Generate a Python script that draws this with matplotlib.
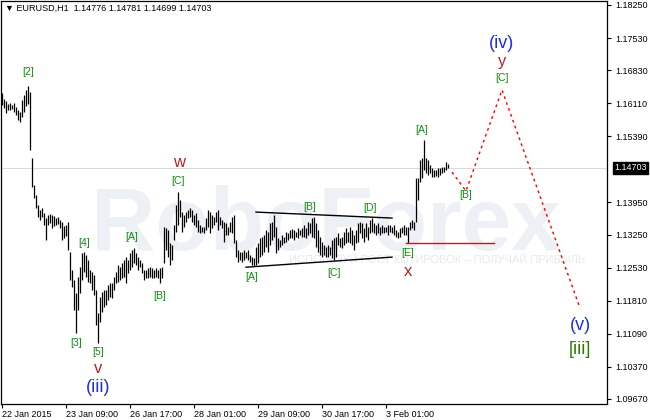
import matplotlib
matplotlib.use("Agg")
import matplotlib.pyplot as plt
import numpy as np

plt.rcParams['font.family'] = ['Liberation Sans', 'DejaVu Sans']

# hourly bars EURUSD H1
bar_high = [
    1.1633, 1.1620, 1.1616, 1.1609, 1.1612, 1.1607, 1.1612, 1.1603, 1.1596, 1.1592,
    1.1618, 1.1629, 1.1640, 1.1649, 1.1636, 1.1492, 1.1433, 1.1411, 1.1389, 1.1379,
    1.1383, 1.1372, 1.1361, 1.1368, 1.1370, 1.1368, 1.1366, 1.1361, 1.1363, 1.1357,
    1.1352, 1.1344, 1.1346, 1.1352, 1.1287, 1.1248, 1.1226, 1.1198, 1.1233, 1.1254,
    1.1285, 1.1287, 1.1281, 1.1270, 1.1248, 1.1244, 1.1237, 1.1204, 1.1154, 1.1189,
    1.1200, 1.1204, 1.1204, 1.1215, 1.1220, 1.1220, 1.1233, 1.1244, 1.1259, 1.1254,
    1.1263, 1.1270, 1.1276, 1.1270, 1.1285, 1.1292, 1.1296, 1.1285, 1.1276, 1.1270,
    1.1263, 1.1248, 1.1248, 1.1252, 1.1254, 1.1252, 1.1248, 1.1252, 1.1248, 1.1252,
    1.1254, 1.1342, 1.1339, 1.1335, 1.1307, 1.1302, 1.1346, 1.1389, 1.1418, 1.1400,
    1.1374, 1.1368, 1.1374, 1.1379, 1.1383, 1.1379, 1.1368, 1.1372, 1.1357, 1.1346,
    1.1342, 1.1342, 1.1361, 1.1379, 1.1374, 1.1368, 1.1363, 1.1374, 1.1379, 1.1363,
    1.1357, 1.1352, 1.1350, 1.1342, 1.1352, 1.1363, 1.1368, 1.1313, 1.1292, 1.1287,
    1.1287, 1.1292, 1.1287, 1.1292, 1.1281, 1.1276, 1.1274, 1.1298, 1.1307, 1.1318,
    1.1320, 1.1324, 1.1335, 1.1331, 1.1350, 1.1352, 1.1368, 1.1342, 1.1318, 1.1313,
    1.1324, 1.1320, 1.1331, 1.1329, 1.1335, 1.1337, 1.1335, 1.1331, 1.1339, 1.1335,
    1.1339, 1.1346, 1.1339, 1.1352, 1.1350, 1.1361, 1.1363, 1.1350, 1.1335, 1.1320,
    1.1309, 1.1302, 1.1298, 1.1302, 1.1298, 1.1313, 1.1318, 1.1320, 1.1329, 1.1318,
    1.1320, 1.1331, 1.1339, 1.1331, 1.1342, 1.1335, 1.1324, 1.1335, 1.1350, 1.1352,
    1.1350, 1.1339, 1.1350, 1.1342, 1.1357, 1.1361, 1.1350, 1.1346, 1.1350, 1.1342,
    1.1346, 1.1342, 1.1342, 1.1346, 1.1346, 1.1342, 1.1346, 1.1335, 1.1331, 1.1339,
    1.1342, 1.1346, 1.1342, 1.1342, 1.1352, 1.1357, 1.1352, 1.1448, 1.1448, 1.1488,
    1.1492, 1.1531, 1.1492, 1.1488, 1.1477, 1.1470, 1.1466, 1.1466, 1.1470, 1.1470,
    1.1472, 1.1472, 1.1483, 1.14781,
]
bar_low = [
    1.1607, 1.1601, 1.1590, 1.1596, 1.1596, 1.1599, 1.1592, 1.1586, 1.1575, 1.1570,
    1.1581, 1.1592, 1.1605, 1.1609, 1.1509, 1.1429, 1.1405, 1.1383, 1.1363, 1.1357,
    1.1363, 1.1346, 1.1313, 1.1346, 1.1350, 1.1339, 1.1344, 1.1346, 1.1348, 1.1339,
    1.1313, 1.1318, 1.1322, 1.1292, 1.1226, 1.1211, 1.1161, 1.1111, 1.1161, 1.1198,
    1.1226, 1.1244, 1.1233, 1.1222, 1.1220, 1.1204, 1.1193, 1.1128, 1.1089, 1.1135,
    1.1156, 1.1167, 1.1172, 1.1183, 1.1189, 1.1187, 1.1204, 1.1220, 1.1222, 1.1226,
    1.1230, 1.1233, 1.1220, 1.1241, 1.1248, 1.1254, 1.1263, 1.1259, 1.1248, 1.1254,
    1.1241, 1.1226, 1.1230, 1.1230, 1.1233, 1.1230, 1.1230, 1.1233, 1.1230, 1.1220,
    1.1230, 1.1263, 1.1292, 1.1276, 1.1259, 1.1270, 1.1313, 1.1331, 1.1346, 1.1363,
    1.1331, 1.1342, 1.1352, 1.1361, 1.1363, 1.1352, 1.1346, 1.1342, 1.1331, 1.1329,
    1.1331, 1.1329, 1.1335, 1.1342, 1.1329, 1.1339, 1.1346, 1.1352, 1.1335, 1.1346,
    1.1339, 1.1309, 1.1324, 1.1324, 1.1331, 1.1329, 1.1307, 1.1276, 1.1265, 1.1270,
    1.1265, 1.1270, 1.1274, 1.1270, 1.1265, 1.1259, 1.1257, 1.1259, 1.1263, 1.1276,
    1.1281, 1.1287, 1.1298, 1.1287, 1.1302, 1.1313, 1.1320, 1.1285, 1.1292, 1.1298,
    1.1302, 1.1307, 1.1309, 1.1313, 1.1318, 1.1318, 1.1313, 1.1320, 1.1318, 1.1324,
    1.1320, 1.1320, 1.1318, 1.1324, 1.1329, 1.1320, 1.1318, 1.1298, 1.1287, 1.1281,
    1.1276, 1.1281, 1.1276, 1.1276, 1.1281, 1.1274, 1.1270, 1.1276, 1.1302, 1.1298,
    1.1296, 1.1302, 1.1307, 1.1309, 1.1307, 1.1302, 1.1292, 1.1307, 1.1309, 1.1329,
    1.1318, 1.1309, 1.1320, 1.1313, 1.1329, 1.1331, 1.1329, 1.1324, 1.1329, 1.1324,
    1.1329, 1.1329, 1.1331, 1.1324, 1.1331, 1.1329, 1.1324, 1.1320, 1.1318, 1.1320,
    1.1329, 1.1324, 1.1324, 1.1307, 1.1335, 1.1339, 1.1335, 1.1352, 1.1400, 1.1440,
    1.1448, 1.1466, 1.1459, 1.1455, 1.1459, 1.1450, 1.1450, 1.1453, 1.1450, 1.1455,
    1.1459, 1.1461, 1.1466, 1.14699,
]

last_price = 1.14703
title_text = "\u25bc EURUSD,H1  1.14776 1.14781 1.14699 1.14703"

x_tick_bars = [0, 32, 64, 96, 128, 160, 192]
x_tick_labels = ["22 Jan 2015", "23 Jan 09:00", "26 Jan 17:00", "28 Jan 01:00",
                 "29 Jan 09:00", "30 Jan 17:00", "3 Feb 01:00"]
y_ticks = [1.18250, 1.17530, 1.16830, 1.16110, 1.15390, 1.13950, 1.13250,
           1.12530, 1.11810, 1.11090, 1.10370, 1.09670]

# triangle (contracting) boundaries and level of wave x
tri_upper_x = [127, 195]
tri_upper_y = [1.1374, 1.1361]
tri_lower_x = [122, 195]
tri_lower_y = [1.1254, 1.1276]
level_x = [202, 246]
level_y = [1.1307, 1.1307]

# forecast path
fc_x = [225, 232, 250, 289]
fc_y = [1.1461, 1.1420, 1.1640, 1.1165]

# wave labels: text, bar, price, kind
wave_labels = [
    ("[2]", 13, 1.1679, "sub"),
    ("[3]", 37, 1.1089, "sub"),
    ("[4]", 41, 1.1307, "sub"),
    ("[5]", 48, 1.1069, "sub"),
    ("v", 48, 1.1033, "mid"),
    ("(iii)", 48, 1.0991, "big"),
    ("[A]", 65, 1.1320, "sub"),
    ("[B]", 79, 1.1191, "sub"),
    ("[C]", 88, 1.1442, "sub"),
    ("w", 88.5, 1.1483, "mid"),
    ("[A]", 125, 1.1233, "sub"),
    ("[B]", 154, 1.1385, "sub"),
    ("[C]", 166, 1.1241, "sub"),
    ("[D]", 184, 1.1383, "sub"),
    ("[E]", 203, 1.1285, "sub"),
    ("x", 203, 1.1244, "mid"),
    ("[A]", 210, 1.1553, "sub"),
    ("[B]", 232, 1.1411, "sub"),
    ("[C]", 250, 1.1666, "sub"),
    ("y", 250, 1.1701, "mid"),
    ("(iv)", 250, 1.1742, "big"),
    ("(v)", 289, 1.1128, "big"),
    ("[iii]", 289, 1.1074, "deg"),
]
label_style = {
    "sub": dict(color="#138a13", fontsize=7.5),
    "mid": dict(color="#b4232a", fontsize=12),
    "big": dict(color="#1f2fe0", fontsize=13),
    "deg": dict(color="#2d7a00", fontsize=13),
}

fig = plt.figure(figsize=(6.5, 4.2), dpi=100)
ax = fig.add_axes([1 / 650, 16 / 420, 606 / 650, 403 / 420])
ax.set_xlim(-0.5, 302.5)
ax.set_ylim(1.09561, 1.18337)

# watermark
ax.text(0.535, 0.382, "RoboForex", transform=ax.transAxes, fontsize=64,
        fontweight="bold", color="#edf0f4", ha="center", va="baseline", zorder=0)
ax.text(0.72, 0.37, "ИСПОЛЬЗУЙ РОСТ КОТИРОВОК \u2013 ПОЛУЧАЙ ПРИБЫЛЬ",
        transform=ax.transAxes, fontsize=8, color="#e6e9ee", ha="center",
        va="top", zorder=0)

ax.axhline(last_price, color="#d9d9d9", lw=0.7, zorder=1)

idx = np.arange(len(bar_high))
ax.vlines(idx, bar_low, bar_high, color="black", lw=0.9, zorder=3)

ax.plot(tri_upper_x, tri_upper_y, color="black", lw=1, zorder=4)
ax.plot(tri_lower_x, tri_lower_y, color="black", lw=1, zorder=4)
ax.plot(level_x, level_y, color="red", lw=1, zorder=4)
ax.plot(fc_x, fc_y, color="red", lw=1, ls=(0, (2, 2.5)), zorder=4)

for txt, bx, py, kind in wave_labels:
    ax.text(bx, py, txt, ha="center", va="center", zorder=5, **label_style[kind])

ax.text(0.006, 0.992, title_text, transform=ax.transAxes, fontsize=6.5,
        ha="left", va="top", zorder=6)

ax.set_xticks(x_tick_bars)
ax.set_xticklabels(x_tick_labels, ha="left", fontsize=6.5)
ax.tick_params(axis="x", direction="out", length=3, pad=1)
ax.yaxis.tick_right()
ax.set_yticks(y_ticks)
ax.set_yticklabels([f"{v:.5f}" for v in y_ticks], fontsize=6.5)
ax.tick_params(axis="y", direction="out", length=3, pad=3)

# current price marker on the scale
ax.annotate(f"{last_price:.5f}", xy=(1.0, last_price),
            xycoords=("axes fraction", "data"), xytext=(5, 0),
            textcoords="offset points", va="center", ha="left", fontsize=6.5,
            color="white",
            bbox=dict(boxstyle="square,pad=0.15", fc="black", ec="black"))

for s in ax.spines.values():
    s.set_linewidth(0.9)

fig.savefig("out.png", dpi=100, facecolor="white")
